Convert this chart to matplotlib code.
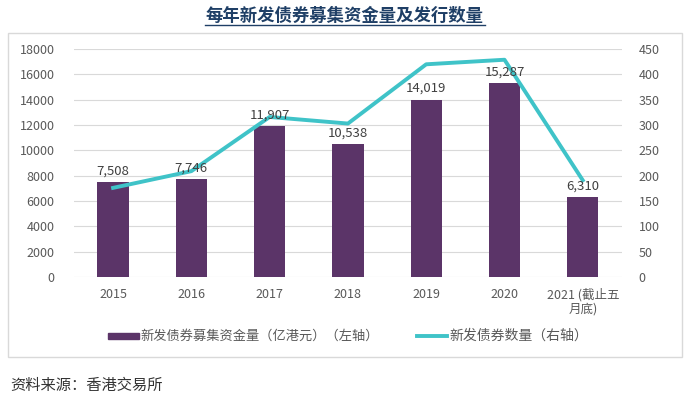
import matplotlib.pyplot as plt
import numpy as np
from matplotlib.patches import Rectangle

plt.rcParams['font.family'] = ['Noto Sans CJK SC', 'DejaVu Sans']

years = ["2015", "2016", "2017", "2018", "2019", "2020", "2021 (截止五\n月底)"]
funds = [7508, 7746, 11907, 10538, 14019, 15287, 6310]
counts = [176, 209, 316, 303, 420, 429, 191]

bar_color = "#5B3468"
line_color = "#3FC3C8"
grid_color = "#D9D9D9"
text_color = "#595959"

fig = plt.figure(figsize=(6.91, 3.96), dpi=100)
fig.patches.append(Rectangle((8 / 691, 1 - 357 / 396), 674 / 691, 324 / 396,
                             transform=fig.transFigure, fill=False,
                             edgecolor="#D9D9D9", linewidth=1))

ax = fig.add_axes([0.107, 0.3005, 0.793, 0.5755])
ax2 = ax.twinx()

x = np.arange(len(years))
ax.bar(x, funds, width=0.4, color=bar_color, zorder=3)
ax2.plot(x, counts, color=line_color, linewidth=2.8, zorder=4)
# value labels drawn on the twin axes so they sit above the line
for xi, v in zip(x, funds):
    ax2.text(xi, v + 350, f"{v:,}", ha="center", va="bottom", fontsize=9.5,
             color="#404040", transform=ax.transData, zorder=5)

ax.set_ylim(0, 18000)
ax.set_yticks(range(0, 18001, 2000))
ax2.set_ylim(0, 450)
ax2.set_yticks(range(0, 451, 50))
ax.set_xlim(-0.5, len(years) - 0.5)
ax.set_xticks(x)
ax.set_xticklabels(years, fontsize=9, color=text_color, linespacing=1.1)
ax.yaxis.grid(True, color=grid_color, linewidth=0.8, zorder=0)
ax.set_axisbelow(True)

for a in (ax, ax2):
    for s in a.spines.values():
        s.set_visible(False)
    a.tick_params(length=0, labelsize=9, labelcolor=text_color)
ax.tick_params(axis="y", pad=14)
ax2.tick_params(axis="y", pad=12)
ax.tick_params(axis="x", pad=8)

fig.text(345 / 691, 1 - 16 / 396, "每年新发债券募集资金量及发行数量", ha="center", va="center",
         fontsize=12.5, fontweight="bold", color="#1F3F66")
fig.add_artist(plt.Line2D([205 / 691, 485 / 691], [1 - 25 / 396, 1 - 25 / 396],
                          color="#1F3F66", linewidth=1))

# legend
fig.patches.append(Rectangle((108 / 691, 1 - 339 / 396), 31 / 691, 6 / 396,
                             transform=fig.transFigure, color=bar_color))
fig.text(140 / 691, 1 - 336 / 396, "新发债券募集资金量（亿港元）（左轴）", va="center",
         fontsize=9.5, color=text_color)
fig.add_artist(plt.Line2D([417 / 691, 447 / 691], [1 - 336 / 396, 1 - 336 / 396],
                          color=line_color, linewidth=2.8))
fig.text(449 / 691, 1 - 336 / 396, "新发债券数量（右轴）", va="center",
         fontsize=10, color=text_color)

fig.text(10 / 691, 1 - 385 / 396, "资料来源：香港交易所", va="center", fontsize=11,
         style="italic", color="#333333")

fig.savefig("out.png", dpi=100)
